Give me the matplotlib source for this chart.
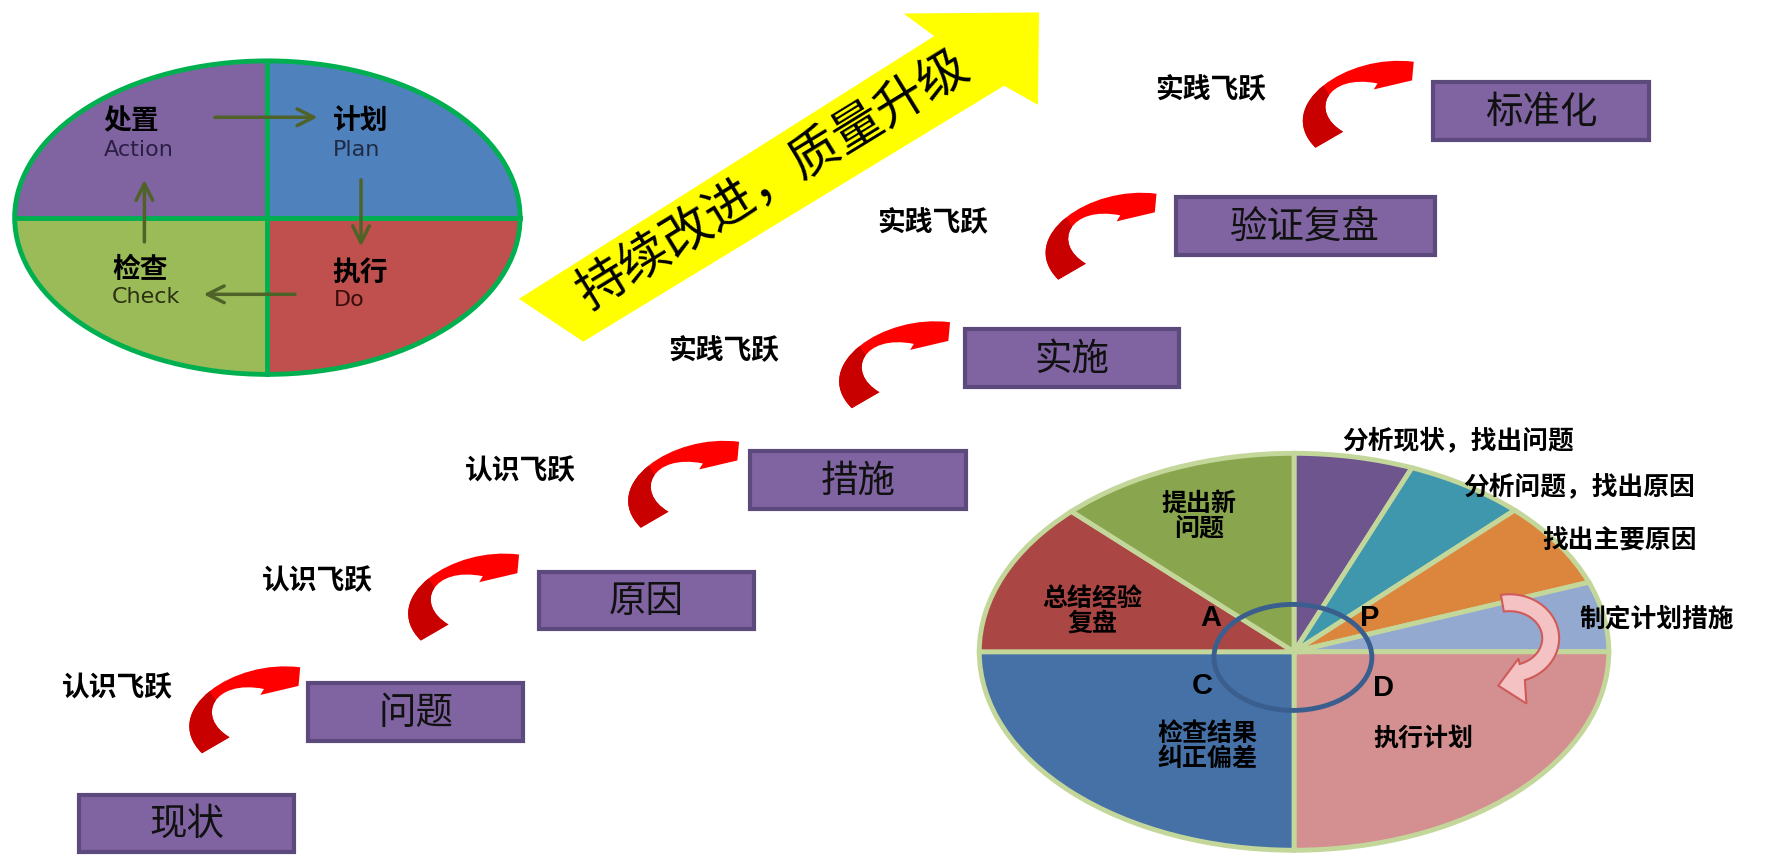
import numpy as np
import matplotlib
matplotlib.use("Agg")
import matplotlib.pyplot as plt
from matplotlib.patches import Polygon, Wedge, Ellipse, Rectangle, PathPatch
from matplotlib.path import Path
from matplotlib.transforms import Affine2D

plt.rcParams['font.family'] = ['Noto Sans CJK SC', 'DejaVu Sans']

# PDCA circle, quadrants counter-clockwise from top-right
pdca_cn = ['计划', '处置', '检查', '执行']
pdca_en = ['Plan', 'Action', 'Check', 'Do']
pdca_colors = ['#4F81BD', '#8064A2', '#9BBB59', '#C0504D']
pdca_en_colors = ['#1F2A44', '#2A1F44', '#2A3010', '#3A0C0C']

# staircase
steps = ['现状', '问题', '原因', '措施', '实施', '验证复盘', '标准化']
leaps = ['认识飞跃', '认识飞跃', '认识飞跃', '实践飞跃', '实践飞跃', '实践飞跃']
banner = '持续改进，质量升级'

# detailed pie, clockwise from 12 o'clock
pie_labels = ['分析现状，找出问题', '分析问题，找出原因', '找出主要原因', '制定计划措施',
              '执行计划', '检查结果\n纠正偏差', '总结经验\n复盘', '提出新\n问题']
pie_sizes = [22, 22.5, 25, 20.5, 90, 90, 45, 45]
pie_colors = ['#6F558E', '#3F97AE', '#DC853D', '#94A9D0',
              '#D49090', '#4571A7', '#AA4643', '#89A54E']
phase_letters = ['P', 'D', 'C', 'A']

# ---- layout (canvas units, y down) ----
W, H = 1568, 760
box_x = [70, 273, 478, 665, 855, 1042, 1270]
box_y = [705, 606, 507, 400, 292, 175, 73]
box_w = [191, 191, 190, 191, 190, 230, 192]
box_h = 51
leap_pos = [(104, 610), (281, 515), (461, 418), (641, 311), (827, 198), (1073, 80)]
arrow_tail = [(179, 668), (373, 568), (568, 468), (755, 362), (938, 248), (1166, 131)]

fig = plt.figure(figsize=(17.69, 8.57), dpi=100, facecolor='white')
ax = fig.add_axes([0, 0, 1, 1])
ax.set_xlim(0, W)
ax.set_ylim(H, 0)
ax.axis('off')
ax.set_zorder(2)

# ---- PDCA ellipse ----
cx, cy, a, b = 237, 193, 224, 139
tr = Affine2D().scale(a, -b).translate(cx, cy) + ax.transData
for i, col in enumerate(pdca_colors):
    w = Wedge((0, 0), 1, 90 * i, 90 * (i + 1), fc=col, ec='none', transform=tr)
    ax.add_patch(w)
ax.plot([cx - a, cx + a], [cy, cy], color='#00B050', lw=3.5)
ax.plot([cx, cx], [cy - b, cy + b], color='#00B050', lw=3.5)
ax.add_patch(Ellipse((cx, cy), 2 * a, 2 * b, fc='none', ec='#00B050', lw=3.5))

cn_pos = [(320, 108), (116, 108), (124, 239), (319, 242)]
en_pos = [(316, 133), (123, 133), (129, 263), (310, 266)]
for i in range(4):
    ax.text(*cn_pos[i], pdca_cn[i], fontsize=20, fontweight='bold', ha='center', va='center')
    ax.text(*en_pos[i], pdca_en[i], fontsize=16, color=pdca_en_colors[i],
            family='DejaVu Sans', ha='center', va='center')

arr = dict(arrowstyle='->', color='#4F6228', lw=2.5, mutation_scale=30)
for s, e in [((188, 104), (284, 104)), ((320, 157), (320, 221)),
             ((264, 261), (178, 261)), ((128, 217), (128, 157))]:
    ax.annotate('', xy=e, xytext=s, arrowprops=arr)

# ---- yellow banner arrow ----
yellow = [(460, 265), (828, 32), (801, 12), (921, 11), (920, 93), (890, 76), (517, 303)]
ax.add_patch(Polygon(yellow, closed=True, fc='#FFFF00', ec='none'))
ax.text(686, 160, banner, fontsize=36, rotation=31.5, ha='center', va='center',
        rotation_mode='anchor')

# ---- stair boxes ----
for i, s in enumerate(steps):
    ax.add_patch(Rectangle((box_x[i], box_y[i]), box_w[i], box_h,
                           fc='#8064A2', ec='#5D4A7C', lw=3))
    ax.text(box_x[i] + box_w[i] / 2, box_y[i] + box_h / 2 + 1, s,
            fontsize=27, fontweight='medium', ha='center', va='center', color='#111111')

# ---- red curved arrows ----
verts = [(0, 0),
         (-38, -38), (28, -84), (87.1, -76.2),
         (85.6, -59.7), (51.7, -51.7), (55, -57),
         (10, -66), (-6, -32), (24.5, -14.2),
         (0, 0)]
codes = [Path.MOVETO,
         Path.CURVE4, Path.CURVE4, Path.CURVE4,
         Path.LINETO, Path.LINETO, Path.LINETO,
         Path.CURVE4, Path.CURVE4, Path.CURVE4,
         Path.CLOSEPOLY]
tail_dark = np.array([(-45, 20), (-45, -60), (4, -60), (14, -44), (45, 20)])
for (x0, y0) in arrow_tail:
    p = Path(np.array(verts) + [x0, y0], codes)
    body = PathPatch(p, fc='#FF0000', ec='none', zorder=3)
    ax.add_patch(body)
    dark = Polygon(tail_dark + [x0, y0], closed=True, fc='#C80000', ec='none', zorder=3.1)
    ax.add_patch(dark)
    dark.set_clip_path(body)

for (x, y), t in zip(leap_pos, leaps):
    ax.text(x, y, t, fontsize=20, fontweight='bold', ha='center', va='center')

# ---- detailed pie ----
pcx, pcy, pa, pb = 1147, 578, 279, 176
m = 1.03
pax = fig.add_axes([(pcx - pa * m) / W, (H - pcy - pb * m) / H, 2 * pa * m / W, 2 * pb * m / H])
pax.set_zorder(1)
pax.pie(pie_sizes, colors=pie_colors, startangle=90, counterclock=False, radius=1,
        wedgeprops=dict(edgecolor='#C4D79B', linewidth=3.5))
pax.set_xlim(-m, m)
pax.set_ylim(-m, m)
pax.set_aspect('auto')
pax.axis('off')

# centre ring and phase letters
ax.add_patch(Ellipse((1146, 583), 140, 94, fc='none', ec='#3A5F8F', lw=3.5, zorder=4))
for (x, y), t in zip([(1214, 548), (1226, 610), (1066, 608), (1073, 548)], phase_letters):
    ax.text(x, y, t, fontsize=21, fontweight='bold', family='Liberation Sans',
            ha='center', va='center', zorder=5)

# slice labels
outer = [(1190, 391), (1297, 432), (1367, 479), (1400, 549)]
for (x, y), t in zip(outer, pie_labels[:4]):
    ax.text(x, y, t, fontsize=18.5, fontweight='bold', ha='left', va='center', zorder=5)
inner = [(1262, 655), (1070, 662), (968, 542), (1063, 458)]
for (x, y), t in zip(inner, pie_labels[4:]):
    ax.text(x, y, t, fontsize=18, fontweight='bold', ha='center', va='center',
            linespacing=1.05, zorder=5)

# pink turning arrow
acx, acy = 1338, 566
t_out = np.radians(np.linspace(100, -72, 40))
t_in = t_out[::-1]
outer_arc = np.c_[acx + 44 * np.cos(t_out), acy - 39 * np.sin(t_out)]
inner_arc = np.c_[acx + 29 * np.cos(t_in), acy - 24 * np.sin(t_in)]
head = np.array([(1353, 624), (1328, 608), (1346, 584)])
pink = np.vstack([outer_arc, head, inner_arc])
ax.add_patch(Polygon(pink, closed=True, fc='#F4C2C2', ec='#D05A5A', lw=1.5, zorder=4))

fig.savefig('out.png', dpi=100, facecolor='white')
